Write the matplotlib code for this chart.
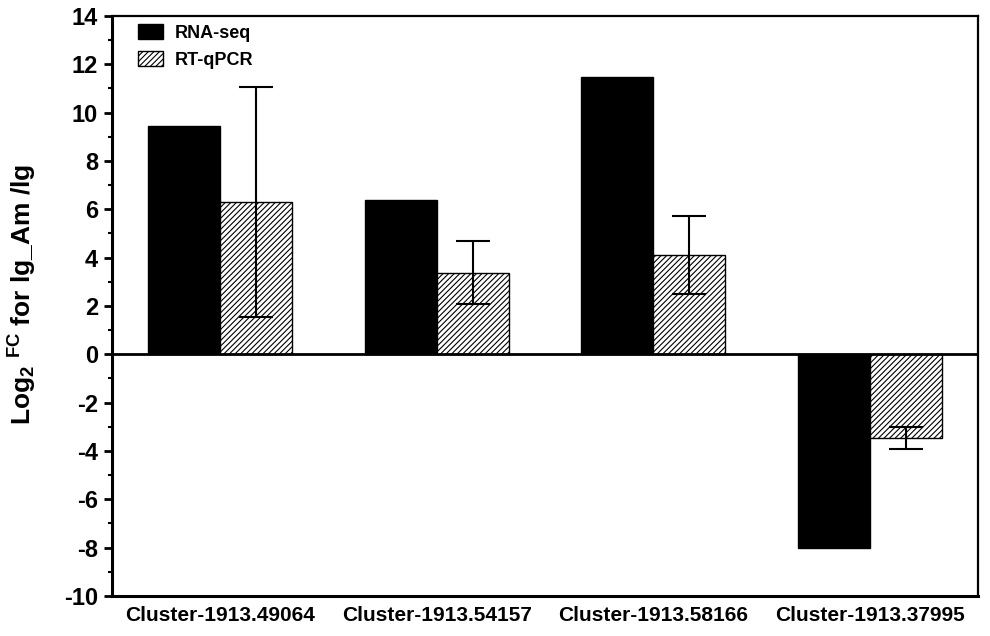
import matplotlib.pyplot as plt
import numpy as np
from matplotlib.patches import Patch

plt.rcParams['font.family'] = ['Liberation Sans', 'DejaVu Sans']
plt.rcParams['font.weight'] = 'bold'
plt.rcParams['axes.unicode_minus'] = False
plt.rcParams['mathtext.fontset'] = 'custom'
plt.rcParams['mathtext.rm'] = 'Liberation Sans:bold'
plt.rcParams['mathtext.bf'] = 'Liberation Sans:bold'
plt.rcParams['mathtext.it'] = 'Liberation Sans:bold'
plt.rcParams['hatch.linewidth'] = 0.8

clusters = ['Cluster-1913.49064', 'Cluster-1913.54157', 'Cluster-1913.58166', 'Cluster-1913.37995']
rna_seq = [9.43, 6.37, 11.46, -8.03]
rt_qpcr = [6.29, 3.37, 4.12, -3.45]
rt_err = [4.76, 1.3, 1.62, 0.45]

fig = plt.figure(figsize=(9.9, 6.36), dpi=100)
ax = fig.add_axes([0.113, 0.063, 0.875, 0.912])

x = np.arange(len(clusters))
w = 1 / 3
ax.bar(x - w / 2, rna_seq, w, color='black', edgecolor='black', label='RNA-seq', zorder=2)
ax.bar(x + w / 2, rt_qpcr, w, color='white', edgecolor='black', hatch='//////',
       linewidth=1, label='RT-qPCR', zorder=2)
ax.errorbar(x + w / 2, rt_qpcr, yerr=rt_err, fmt='none', ecolor='black',
            elinewidth=1.5, capsize=12.5, capthick=1.5, zorder=3)
ax.axhline(0, color='black', lw=2, zorder=4)

ax.set_xlim(-0.5, 3.5)
ax.set_ylim(-10, 14)
ax.set_yticks(np.arange(-10, 15, 2))
ax.set_yticks(np.arange(-9, 14, 2), minor=True)
ax.set_xticks(x)
ax.set_xticklabels(clusters, fontsize=15, fontweight='bold')
ax.tick_params(axis='x', length=0, pad=7)
ax.tick_params(axis='y', which='major', direction='out', length=6, width=2, labelsize=17, pad=4)
ax.tick_params(axis='y', which='minor', direction='out', length=3, width=1.5)
for lbl in ax.get_yticklabels():
    lbl.set_fontweight('bold')

for s in ['left', 'bottom']:
    ax.spines[s].set_linewidth(2.2)
for s in ['top', 'right']:
    ax.spines[s].set_linewidth(1.6)

ax.set_ylabel(r'Log$_{2}$ $^{FC}$ for lg_Am /lg', fontsize=19, fontweight='bold')
ax.yaxis.set_label_coords(-0.084, 0.52)

handles = [Patch(facecolor='black', edgecolor='black', label='RNA-seq'),
           Patch(facecolor='white', edgecolor='black', hatch='//////', label='RT-qPCR')]
ax.legend(handles=handles, loc='upper left', frameon=False,
          handlelength=1.35, handleheight=0.9, handletextpad=0.7, labelspacing=0.5,
          borderaxespad=0.0, bbox_to_anchor=(0.022, 0.998),
          prop={'weight': 'bold', 'size': 13})

fig.savefig('out.png', dpi=100)
